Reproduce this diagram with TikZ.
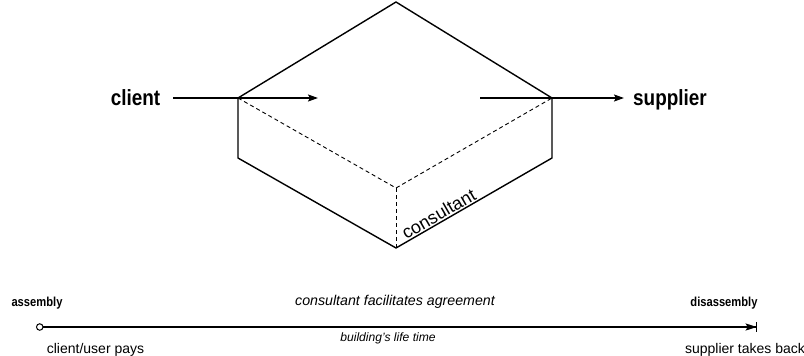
\documentclass[tikz,border=0pt]{standalone}
\usepackage{fontspec}
\setmainfont{Liberation Sans}
\newfontfamily\narrowfont[FakeStretch=0.86]{Liberation Sans}
\usetikzlibrary{arrows.meta}

\tikzset{
  edge/.style={line width=1.4pt, line join=round},
  hidden/.style={line width=0.9pt, dash pattern=on 4pt off 3pt},
  flow/.style={line width=1.8pt, -{Stealth[length=10pt,width=7pt,inset=2pt]}},
  party/.style={font=\narrowfont\fontsize{22}{24}\selectfont\bfseries, anchor=base, inner sep=0pt},
  phase/.style={font=\narrowfont\fontsize{13}{15}\selectfont\bfseries, anchor=base, inner sep=0pt},
  note/.style={font=\fontsize{14}{16}\selectfont, anchor=base, inner sep=0pt},
  inote/.style={font=\fontsize{14.2}{16}\selectfont\itshape, anchor=base, inner sep=0pt},
  snote/.style={font=\fontsize{12.1}{14}\selectfont\itshape, anchor=base, inner sep=0pt},
}

\begin{document}
\begin{tikzpicture}[x=1pt, y=-1pt]
  \useasboundingbox (0,0) rectangle (804,356);

  % corners of the box
  \coordinate (T) at (396,2);
  \coordinate (L) at (238,98);
  \coordinate (R) at (552,98);
  \coordinate (F) at (396,188);
  \coordinate (LB) at (238,158);
  \coordinate (RB) at (552,158);
  \coordinate (B) at (396,248);

  % hidden edges
  \draw[hidden] (L) -- (F) -- (R);
  \draw[hidden] (F) -- (B);

  % visible edges
  \draw[edge] (L) -- (T) -- (R) -- (RB) -- (B) -- (LB) -- cycle;

  \path (B) -- (RB) node[pos=0.3, sloped, anchor=south, inner sep=1.5pt,
      font=\fontsize{18}{20}\selectfont] (cons) {consultant};

  % parties and flows
  \node[party] (client) at (135.5,105) {client};
  \node[party] (supplier) at (670,105) {supplier};
  \coordinate (cin) at (173,98);
  \coordinate (cmid) at (318,98);
  \coordinate (sout) at (480,98);
  \coordinate (send) at (624,98);
  \draw[flow] (cin) -- (L) -- (cmid);
  \draw[flow] (sout) -- (R) -- (send);

  % life time line
  \coordinate (t0) at (36,327);
  \coordinate (t1) at (757,327);
  \draw[line width=1.8pt, {Circle[open,length=7.5pt,width=7.5pt,line width=1pt]}-{Stealth[length=11pt,width=7pt,inset=2pt,sep=-1pt]Bar[width=10pt,line width=1.3pt]}] (t0) -- (t1);

  \node[phase] (asm) at (37,306) {assembly};
  \node[phase] (dis) at (724,306) {disassembly};
  \node[inote] (agree) at (395,305) {consultant facilitates agreement};
  \node[snote] (life) at (388,341) {building’s life time};
  \node[note] (pays) at (95.5,353) {client/user pays};
  \node[note] (back) at (745,353) {supplier takes back};
\end{tikzpicture}
\end{document}
